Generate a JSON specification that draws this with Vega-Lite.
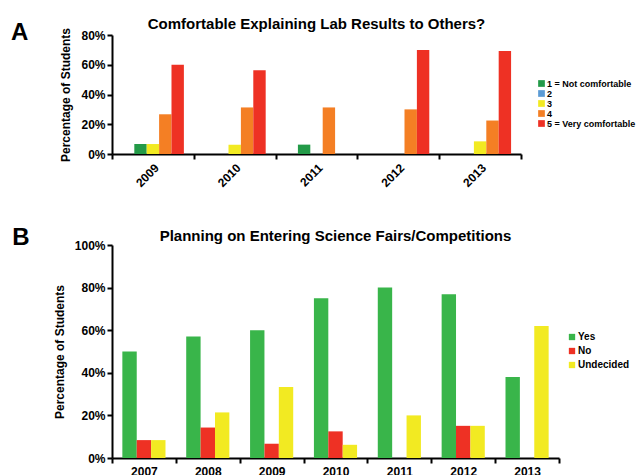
{
  "$schema": "https://vega.github.io/schema/vega-lite/v6.json",
  "padding": {"left": 10, "top": 17, "right": 5, "bottom": 5},
  "background": "white",
  "align": "none",
  "config": {
    "font": "Liberation Sans",
    "view": {"stroke": null},
    "axis": {"grid": false, "domainColor": "black", "domainWidth": 2, "tickColor": "black", "tickWidth": 2, "tickSize": 5, "labelFont": "Liberation Sans", "labelFontWeight": "bold", "labelColor": "black", "labelFontSize": 12, "titleFont": "Liberation Sans", "titleFontWeight": "bold", "titleFontSize": 12, "titleColor": "black"},
    "legend": {"labelFont": "Liberation Sans", "labelFontWeight": "bold", "labelColor": "black", "symbolType": "square", "symbolStrokeWidth": 0, "symbolOpacity": 1, "padding": 0, "labelOffset": 1},
    "title": {"font": "Liberation Sans", "fontWeight": "bold", "color": "black"}
  },
  "resolve": {"scale": {"x": "independent", "y": "independent", "xOffset": "independent", "color": "independent"}, "legend": {"color": "independent"}, "axis": {"x": "independent", "y": "independent"}},
  "spacing": 37,
  "vconcat": [
    {
      "title": {"text": "A", "anchor": "start", "fontSize": 24, "dx": -49, "offset": -47, "baseline": "alphabetic"},
      "vconcat": [
        {
          "width": 409,
          "height": 119,
          "title": {"text": "Comfortable Explaining Lab Results to Others?", "fontSize": 15, "offset": -5},
          "data": {"values": [
            {"year": "2009", "rating": "1 = Not comfortable", "pct": 6.7},
            {"year": "2009", "rating": "3", "pct": 6.7},
            {"year": "2009", "rating": "4", "pct": 26.7},
            {"year": "2009", "rating": "5 = Very comfortable", "pct": 60},
            {"year": "2010", "rating": "3", "pct": 6.3},
            {"year": "2010", "rating": "4", "pct": 31.3},
            {"year": "2010", "rating": "5 = Very comfortable", "pct": 56.3},
            {"year": "2011", "rating": "1 = Not comfortable", "pct": 6.3},
            {"year": "2011", "rating": "4", "pct": 31.3},
            {"year": "2012", "rating": "4", "pct": 30},
            {"year": "2012", "rating": "5 = Very comfortable", "pct": 70},
            {"year": "2013", "rating": "3", "pct": 8.5},
            {"year": "2013", "rating": "4", "pct": 22.5},
            {"year": "2013", "rating": "5 = Very comfortable", "pct": 69.3}
          ]},
          "mark": {"type": "bar"},
          "encoding": {
            "x": {"field": "year", "type": "nominal", "scale": {"paddingInner": 0, "paddingOuter": 0}, "axis": {"title": null, "labelAngle": -45, "tickBand": "extent", "labelPadding": 3}},
            "xOffset": {"field": "rating", "type": "nominal", "scale": {"domain": ["2", "1 = Not comfortable", "3", "4", "5 = Very comfortable"], "paddingInner": 0, "paddingOuter": 0.8}},
            "y": {"field": "pct", "type": "quantitative", "scale": {"domain": [0, 80], "nice": false}, "axis": {"title": "Percentage of Students", "values": [0, 20, 40, 60, 80], "labelExpr": "datum.value + '%'", "titlePadding": 8}},
            "color": {"field": "rating", "type": "nominal", "scale": {"domain": ["1 = Not comfortable", "2", "3", "4", "5 = Very comfortable"], "range": ["#239a48", "#5b9bd5", "#f2ea22", "#f47f24", "#ee3124"]}, "legend": {"title": null, "orient": "none", "legendX": 425, "legendY": 44, "labelFontSize": 9, "symbolSize": 45, "rowPadding": 0}}
          }
        }
      ]
    },
    {
      "title": {"text": "B", "anchor": "start", "fontSize": 24, "dx": -41, "offset": -40, "baseline": "alphabetic"},
      "vconcat": [
        {
          "width": 447,
          "height": 213,
          "title": {"text": "Planning on Entering Science Fairs/Competitions", "fontSize": 15, "offset": -5},
          "data": {"values": [
            {"year": "2007", "answer": "Yes", "pct": 50},
            {"year": "2007", "answer": "No", "pct": 8.4},
            {"year": "2007", "answer": "Undecided", "pct": 8.4},
            {"year": "2008", "answer": "Yes", "pct": 57.1},
            {"year": "2008", "answer": "No", "pct": 14.3},
            {"year": "2008", "answer": "Undecided", "pct": 21.4},
            {"year": "2009", "answer": "Yes", "pct": 60},
            {"year": "2009", "answer": "No", "pct": 6.7},
            {"year": "2009", "answer": "Undecided", "pct": 33.3},
            {"year": "2010", "answer": "Yes", "pct": 75},
            {"year": "2010", "answer": "No", "pct": 12.5},
            {"year": "2010", "answer": "Undecided", "pct": 6.2},
            {"year": "2011", "answer": "Yes", "pct": 80},
            {"year": "2011", "answer": "Undecided", "pct": 20},
            {"year": "2012", "answer": "Yes", "pct": 76.9},
            {"year": "2012", "answer": "No", "pct": 15.1},
            {"year": "2012", "answer": "Undecided", "pct": 15.1},
            {"year": "2013", "answer": "Yes", "pct": 38},
            {"year": "2013", "answer": "Undecided", "pct": 62}
          ]},
          "mark": {"type": "bar"},
          "encoding": {
            "x": {"field": "year", "type": "nominal", "scale": {"paddingInner": 0, "paddingOuter": 0}, "axis": {"title": null, "labelAngle": 0, "tickBand": "extent", "labelPadding": 3}},
            "xOffset": {"field": "answer", "type": "nominal", "scale": {"domain": ["Yes", "No", "Undecided"], "paddingInner": 0, "paddingOuter": 0.72}},
            "y": {"field": "pct", "type": "quantitative", "scale": {"domain": [0, 100], "nice": false}, "axis": {"title": "Percentage of Students", "values": [0, 20, 40, 60, 80, 100], "labelExpr": "datum.value + '%'", "titlePadding": 8}},
            "color": {"field": "answer", "type": "nominal", "scale": {"domain": ["Yes", "No", "Undecided"], "range": ["#39b54a", "#ee3124", "#f2ea22"]}, "legend": {"title": null, "orient": "none", "legendX": 455, "legendY": 87, "labelFontSize": 10, "symbolSize": 40, "rowPadding": 4}}
          }
        }
      ]
    }
  ]
}
